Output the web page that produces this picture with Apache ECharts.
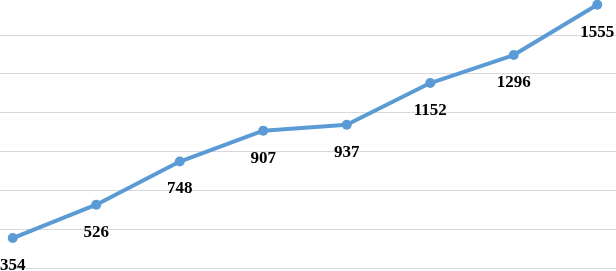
<!DOCTYPE html>
<html>
<head>
<meta charset="utf-8">
<script src="https://cdn.jsdelivr.net/npm/echarts@6/dist/echarts.min.js"></script>
<style>
html,body{margin:0;padding:0;background:#fff;overflow:hidden;width:616px;height:271px;}
#chart{width:668px;height:275px;position:absolute;left:-29px;top:-4px;}
</style>
</head>
<body>
<div id="chart"></div>
<script>
var categories = ['1', '2', '3', '4', '5', '6', '7', '8'];
var values = [354, 526, 748, 907, 937, 1152, 1296, 1555];

var chart = echarts.init(document.getElementById('chart'), null, {renderer: 'canvas'});
chart.setOption({
  animation: false,
  grid: {left: 0, right: 0, top: 0, bottom: 3, containLabel: false},
  xAxis: {
    type: 'category',
    data: categories,
    boundaryGap: true,
    axisLine: {show: false},
    axisTick: {show: false},
    axisLabel: {show: false}
  },
  yAxis: {
    type: 'value',
    min: 200,
    max: 1600,
    interval: 200,
    axisLine: {show: false},
    axisTick: {show: false},
    axisLabel: {show: false},
    splitLine: {show: true, lineStyle: {color: '#d9d9d9', width: 1}}
  },
  series: [{
    type: 'line',
    data: values,
    symbol: 'circle',
    symbolSize: 10,
    lineStyle: {color: '#5b9bd5', width: 4},
    itemStyle: {color: '#5b9bd5'},
    label: {
      show: true,
      position: 'bottom',
      distance: 14,
      color: '#000',
      fontFamily: '"Liberation Serif", "Times New Roman", serif',
      fontWeight: 'bold',
      fontSize: 17
    }
  }]
});
</script>
</body>
</html>
